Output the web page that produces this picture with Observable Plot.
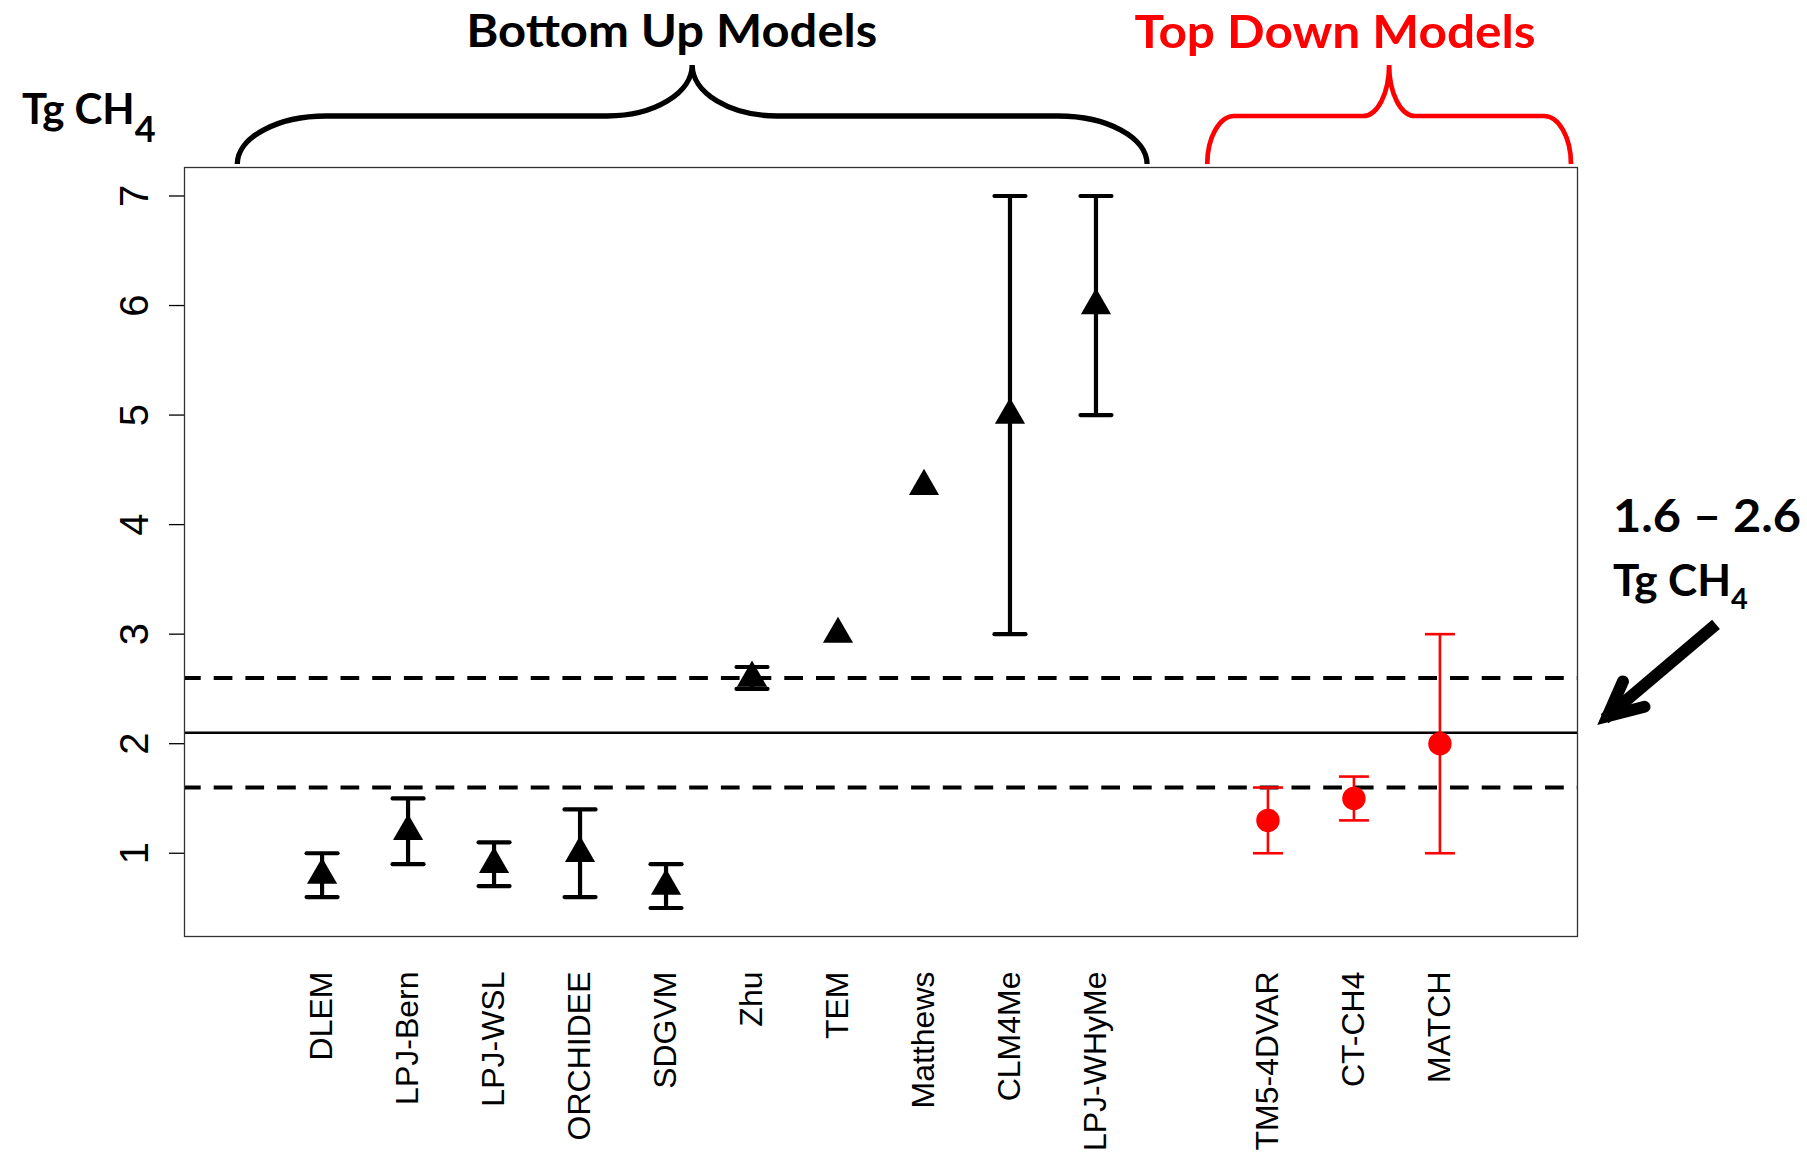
<!DOCTYPE html>
<html>
<head>
<meta charset="utf-8">
<script src="https://cdn.jsdelivr.net/npm/d3@7"></script>
<script src="https://cdn.jsdelivr.net/npm/@observablehq/plot@0.6"></script>
<style>
  html, body { margin: 0; padding: 0; background: #fff; }
  #chart svg { display: block; }
</style>
</head>
<body>
<div id="chart"></div>
<script>
// ---- Data -------------------------------------------------------------
// Bottom-up (process) models, in plotting order
const bottomUpModels = ["DLEM", "LPJ-Bern", "LPJ-WSL", "ORCHIDEE", "SDGVM", "Zhu", "TEM", "Matthews", "CLM4Me", "LPJ-WHyMe"];
const bottomUpSlots  = [1, 2, 3, 4, 5, 6, 7, 8, 9, 10];
const bottomUpValue  = [0.8, 1.2, 0.9, 1.0, 0.7, 2.6, 3.0, 4.35, 5.0, 6.0];
const bottomUpLow    = [0.6, 0.9, 0.7, 0.6, 0.5, 2.5, null, null, 3.0, 5.0];
const bottomUpHigh   = [1.0, 1.5, 1.1, 1.4, 0.9, 2.7, null, null, 7.0, 7.0];

// Top-down (inversion) models; slot 11 is left empty as a separator
const topDownModels = ["TM5-4DVAR", "CT-CH4", "MATCH"];
const topDownSlots  = [12, 13, 14];
const topDownValue  = [1.3, 1.5, 2.0];
const topDownLow    = [1.0, 1.3, 1.0];
const topDownHigh   = [1.6, 1.7, 3.0];

// Consensus range (dashed) and its midpoint (solid)
const bandLimits = [1.6, 2.6];
const bandMid = [2.1];

const yTicks = [1, 2, 3, 4, 5, 6, 7];

// Group annotations above the panel: label and slot span covered by each brace
const groupLabels = ["Bottom Up Models", "Top Down Models"];
const groupSpans  = [[0.02, 10.6], [11.3, 15.53]];

// ---- Tables built from the arrays --------------------------------------
const bottomUp = bottomUpModels.map((name, i) => ({
  name, slot: bottomUpSlots[i], value: bottomUpValue[i], low: bottomUpLow[i], high: bottomUpHigh[i]
}));
const topDown = topDownModels.map((name, i) => ({
  name, slot: topDownSlots[i], value: topDownValue[i], low: topDownLow[i], high: topDownHigh[i]
}));
const withRange = (rows) => rows.filter((d) => d.low != null && d.high != null);
const capsOf = (rows) => withRange(rows).flatMap((d) => [{slot: d.slot, v: d.low}, {slot: d.slot, v: d.high}]);

const slotName = new Map([...bottomUp, ...topDown].map((d) => [d.slot, d.name]));
const allSlots = [...bottomUpSlots, ...topDownSlots];

// ---- Styling -----------------------------------------------------------
const groupColors = ["black", "red"];
const braceStroke = [5.3, 4.7];
const braceCorner = [89, 27];
const braceTip    = [85, 26];
const titleShift  = [-20.5, -54];
const titleLength = [411, 401];
const titleBase   = [46.7, 48.3];
const calibriLike = "Lato, 'Open Sans', sans-serif";

// Horizontal bar used as an error-bar cap (half-length = r)
const capLine = {
  draw(context, size) {
    const w = Math.sqrt(size / Math.PI);
    context.moveTo(-w, 0);
    context.lineTo(w, 0);
  }
};

// Braces, group titles, unit label and the call-out arrow
function annotations(index, {x, y}, values, {width, marginTop, marginRight}) {
  const g = d3.create("svg:g")
    .attr("font-family", calibriLike)
    .attr("font-weight", 700)
    .attr("text-anchor", "start");

  const yEnd = marginTop - 3, yBar = marginTop - 51, yTip = marginTop - 102;
  groupLabels.forEach((label, i) => {
    const [xa, xb] = groupSpans[i].map(x);
    const xm = (xa + xb) / 2;
    const cw = braceCorner[i], tw = braceTip[i];
    const r1 = yEnd - yBar, r2 = yBar - yTip;
    const d = `M${xa},${yEnd}A${cw},${r1} 0 0 1 ${xa + cw},${yBar}` +
              `L${xm - tw},${yBar}A${tw},${r2} 0 0 0 ${xm},${yTip}` +
              `A${tw},${r2} 0 0 0 ${xm + tw},${yBar}` +
              `L${xb - cw},${yBar}A${cw},${r1} 0 0 1 ${xb},${yEnd}`;
    g.append("path")
      .attr("d", d)
      .attr("fill", "none")
      .attr("stroke", groupColors[i])
      .attr("stroke-width", braceStroke[i]);
    g.append("text")
      .attr("x", xm + titleShift[i])
      .attr("y", titleBase[i])
      .attr("text-anchor", "middle")
      .attr("font-size", 46.5)
      .attr("fill", groupColors[i])
      .attr("textLength", titleLength[i])
      .attr("lengthAdjust", "spacingAndGlyphs")
      .text(label);
  });

  // Unit label above the y axis
  const unit = g.append("text").attr("x", 22).attr("y", 123.5).attr("font-size", 42).attr("fill", "black");
  unit.append("tspan").text("Tg CH");
  unit.append("tspan").attr("font-size", 36).attr("dy", 18).text("4");

  // Call-out for the consensus range, pointing at the midpoint line
  const xr = width - marginRight;
  const ym = y(bandMid[0]);
  g.append("text").attr("x", xr + 36).attr("y", ym - 200).attr("font-size", 46.5)
    .attr("textLength", 188).attr("lengthAdjust", "spacingAndGlyphs")
    .text(`${bandLimits[0]} – ${bandLimits[1]}`);
  const unit2 = g.append("text").attr("x", xr + 36).attr("y", ym - 136.7).attr("font-size", 44);
  unit2.append("tspan").text("Tg CH");
  unit2.append("tspan").attr("font-size", 29).attr("dy", 13).text("4");

  const tip = [xr + 20, ym - 7];
  const ang = -40.3 * Math.PI / 180;
  const at = (p, a, len) => [p[0] + Math.cos(a) * len, p[1] + Math.sin(a) * len];
  const apex = at(tip, ang, 14);
  const tail = at(tip, ang, 156);
  const shaftStart = at(tip, ang, 10);
  g.append("path")
    .attr("d", `M${shaftStart}L${tail}`)
    .attr("stroke", "black").attr("stroke-width", 12).attr("fill", "none");
  const spread = 26 * Math.PI / 180;
  const arm1 = at(apex, ang - spread, 38), arm2 = at(apex, ang + spread, 38);
  g.append("path")
    .attr("d", `M${arm1}L${apex}L${arm2}`)
    .attr("stroke", "black").attr("stroke-width", 12).attr("fill", "none")
    .attr("stroke-linejoin", "miter").attr("stroke-miterlimit", 10).attr("stroke-linecap", "round");
  return g.node();
}

const chart = Plot.plot({
  width: 1807,
  height: 1161,
  marginLeft: 184,
  marginRight: 230,
  marginTop: 167,
  marginBottom: 225,
  style: {background: "white", color: "black", fontFamily: "'Liberation Sans', Arial, sans-serif"},
  x: {domain: [-0.6, 15.6]},
  y: {domain: [0.24, 7.26]},
  marks: [
    Plot.ruleY(bandLimits, {stroke: "black", strokeWidth: 4, strokeDasharray: "18.7,13", strokeDashoffset: 2}),
    Plot.ruleY(bandMid, {stroke: "black", strokeWidth: 2.6}),

    Plot.ruleX(withRange(bottomUp), {x: "slot", y1: "low", y2: "high", stroke: "black", strokeWidth: 4.2}),
    Plot.dot(capsOf(bottomUp), {x: "slot", y: "v", symbol: capLine, r: 15.5, fill: "none", stroke: "black", strokeWidth: 4.2, strokeLinecap: "round"}),
    Plot.dot(bottomUp, {x: "slot", y: "value", symbol: "triangle", r: 11.2, fill: "black"}),

    Plot.ruleX(withRange(topDown), {x: "slot", y1: "low", y2: "high", stroke: "red", strokeWidth: 2.6}),
    Plot.dot(capsOf(topDown), {x: "slot", y: "v", symbol: capLine, r: 15, fill: "none", stroke: "red", strokeWidth: 2.6}),
    Plot.dot(topDown, {x: "slot", y: "value", r: 11.7, fill: "red"}),

    Plot.frame({stroke: "#333", strokeWidth: 1.3}),
    Plot.axisY(yTicks, {label: null, tickSize: 15, tickPadding: 22, tickRotate: -90, fontSize: 40, strokeWidth: 1.3, tickFormat: (v) => String(v)}),
    Plot.axisX(allSlots, {label: null, tickSize: 0, tickPadding: 35, tickRotate: -90, fontSize: 32, tickFormat: (s) => slotName.get(s)}),
    annotations
  ]
});

document.getElementById("chart").append(chart);
</script>
</body>
</html>
